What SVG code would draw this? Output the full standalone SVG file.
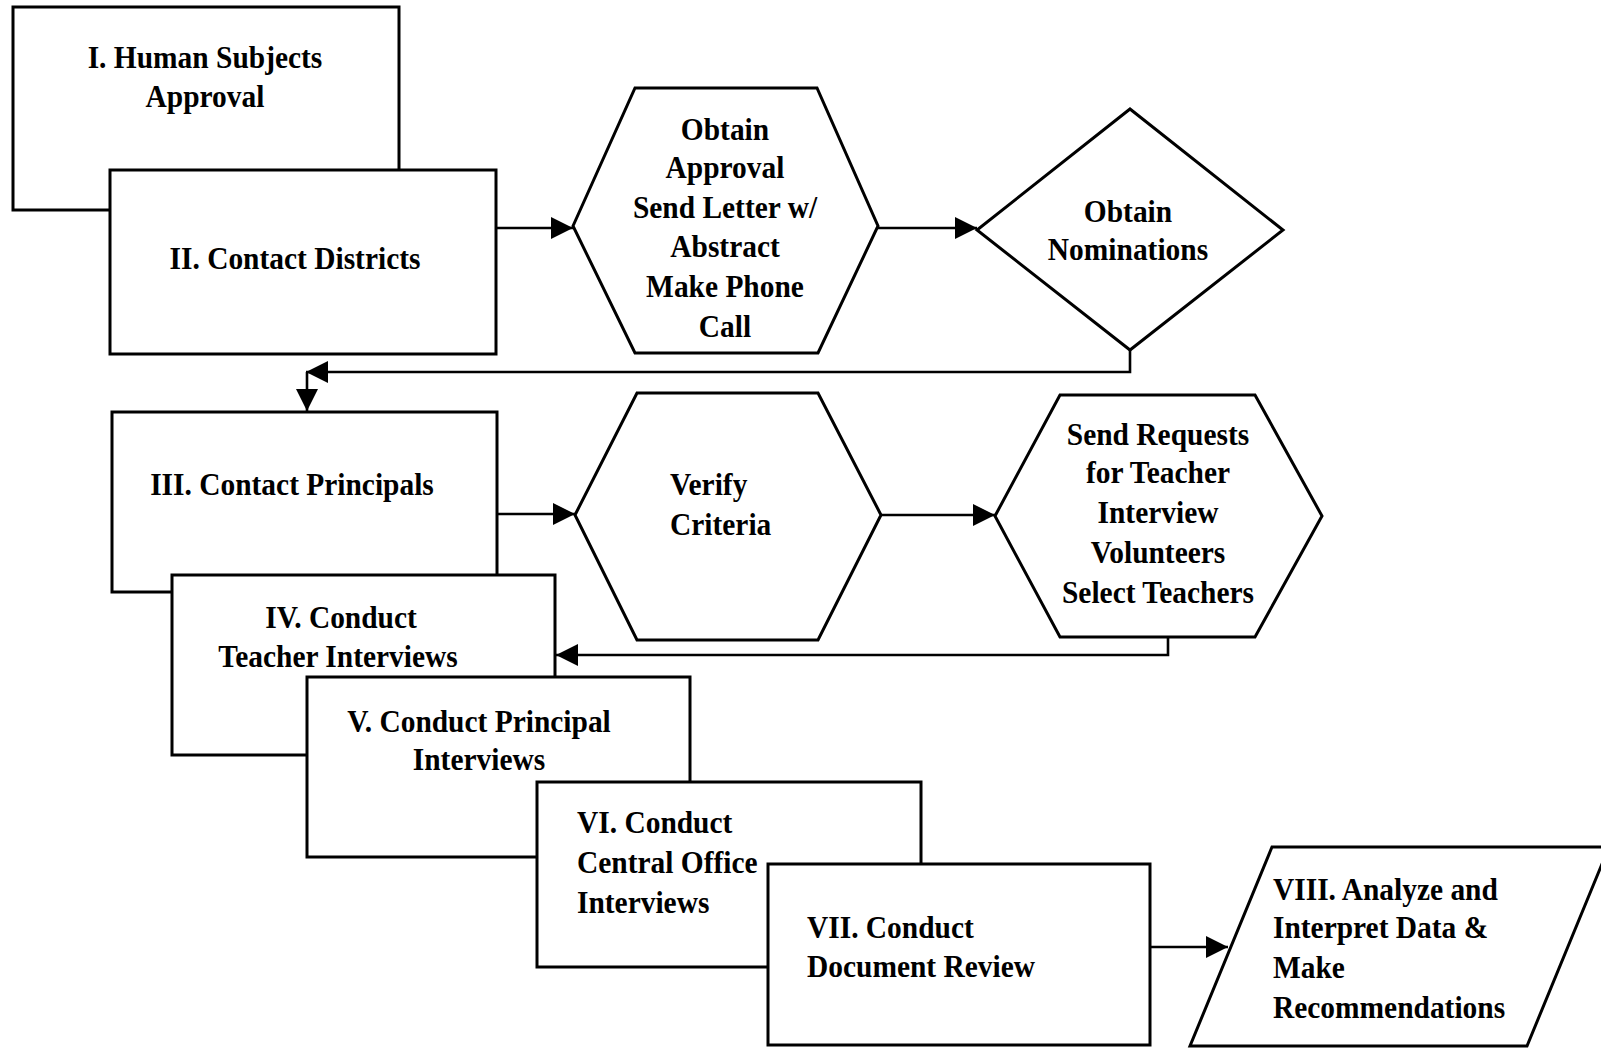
<svg xmlns="http://www.w3.org/2000/svg" width="1601" height="1049" viewBox="0 0 1601 1049">
<style>
.s{fill:#fff;stroke:#000;stroke-width:3;stroke-linejoin:miter}
.c{fill:none;stroke:#000;stroke-width:2.6}
.t{font-family:"Liberation Serif","Times New Roman",serif;font-weight:bold;font-size:32px;fill:#000;text-anchor:middle;transform-box:fill-box;transform-origin:center;transform:scaleX(0.92)}
.l{text-anchor:start;transform-origin:left center}
</style>
<defs>
<marker id="ah" markerUnits="userSpaceOnUse" markerWidth="24" markerHeight="24" refX="22" refY="11" orient="auto">
<path d="M0,0 L22,11 L0,22 z" fill="#000"/>
</marker>
</defs>
<rect width="1601" height="1049" fill="#fff"/>
<g id="connectors">
<path class="c" d="M496,228 H573" marker-end="url(#ah)"/>
<path class="c" d="M878,228 H977" marker-end="url(#ah)"/>
<path class="c" d="M1130,350 V372 H306" marker-end="url(#ah)"/>
<path class="c" d="M307,372 V411" marker-end="url(#ah)"/>
<path class="c" d="M497,514 H575" marker-end="url(#ah)"/>
<path class="c" d="M881,515 H995" marker-end="url(#ah)"/>
<path class="c" d="M1168,637 V655 H556" marker-end="url(#ah)"/>
<path class="c" d="M1150,947 H1228" marker-end="url(#ah)"/>
</g>
<g id="n1">
<rect class="s" x="13" y="7" width="386" height="203"/>
<text class="t" x="205" y="68">I. Human Subjects</text>
<text class="t" x="205" y="107">Approval</text>
</g>
<g id="n2">
<rect class="s" x="110" y="170" width="386" height="184"/>
<text class="t" x="295" y="269">II. Contact Districts</text>
</g>
<g id="n3">
<polygon class="s" points="573,226 635,88 817,88 878,226 818,353 635,353"/>
<text class="t" x="725" y="140">Obtain</text>
<text class="t" x="725" y="178">Approval</text>
<text class="t" x="725" y="218">Send Letter w/</text>
<text class="t" x="725" y="257">Abstract</text>
<text class="t" x="725" y="297">Make Phone</text>
<text class="t" x="725" y="337">Call</text>
</g>
<g id="n4">
<polygon class="s" points="1130,109 1283,230 1130,350 977,230"/>
<text class="t" x="1128" y="222">Obtain</text>
<text class="t" x="1128" y="260">Nominations</text>
</g>
<g id="n5">
<rect class="s" x="112" y="412" width="385" height="180"/>
<text class="t" x="292" y="495">III. Contact Principals</text>
</g>
<g id="n6">
<polygon class="s" points="575,515 637,393 818,393 881,515 818,640 637,640"/>
<text class="t l" x="670" y="495">Verify</text>
<text class="t l" x="670" y="535">Criteria</text>
</g>
<g id="n7">
<polygon class="s" points="995,516 1060,395 1255,395 1322,516 1255,637 1060,637"/>
<text class="t" x="1158" y="445">Send Requests</text>
<text class="t" x="1158" y="483">for Teacher</text>
<text class="t" x="1158" y="523">Interview</text>
<text class="t" x="1158" y="563">Volunteers</text>
<text class="t" x="1158" y="603">Select Teachers</text>
</g>
<g id="n8">
<rect class="s" x="172" y="575" width="383" height="180"/>
<text class="t" x="341" y="628">IV. Conduct</text>
<text class="t" x="338" y="667">Teacher Interviews</text>
</g>
<g id="n9">
<rect class="s" x="307" y="677" width="383" height="180"/>
<text class="t" x="479" y="732">V. Conduct Principal</text>
<text class="t" x="479" y="770">Interviews</text>
</g>
<g id="n10">
<rect class="s" x="537" y="782" width="384" height="185"/>
<text class="t l" x="577" y="833">VI. Conduct</text>
<text class="t l" x="577" y="873">Central Office</text>
<text class="t l" x="577" y="913">Interviews</text>
</g>
<g id="n11">
<rect class="s" x="768" y="864" width="382" height="181"/>
<text class="t l" x="807" y="938">VII. Conduct</text>
<text class="t l" x="807" y="977">Document Review</text>
</g>
<g id="n12">
<polygon class="s" points="1272,847 1609,847 1527,1046 1190,1046"/>
<text class="t l" x="1273" y="900">VIII. Analyze and</text>
<text class="t l" x="1273" y="938">Interpret Data &amp;</text>
<text class="t l" x="1273" y="978">Make</text>
<text class="t l" x="1273" y="1018">Recommendations</text>
</g>
</svg>
